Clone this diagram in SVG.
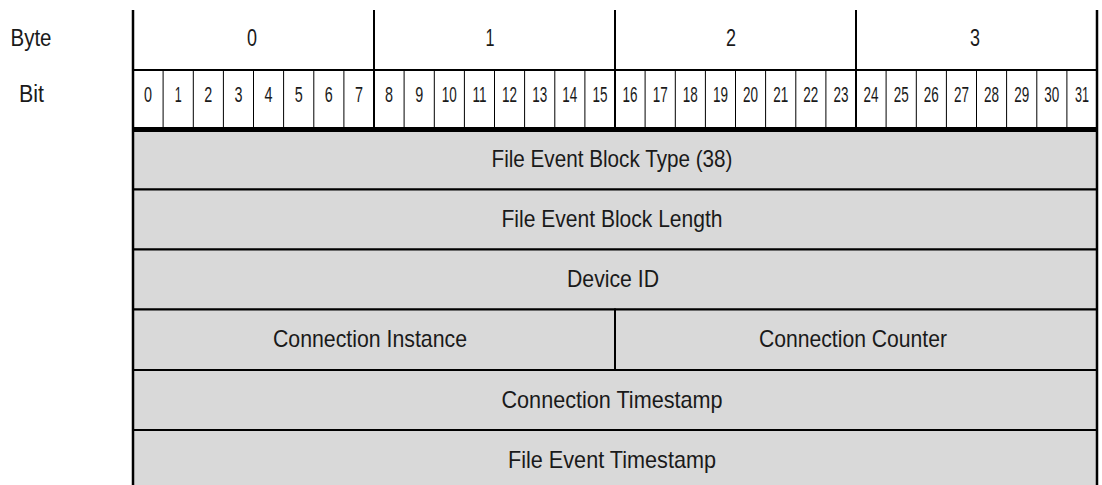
<svg xmlns="http://www.w3.org/2000/svg" width="1102" height="485" viewBox="0 0 1102 485">
<style>
text{font-family:"Liberation Sans","DejaVu Sans Condensed",sans-serif;fill:#1a1a1a;text-anchor:middle}
.lbl{font-size:23px}
.bit{font-size:22px}
.fld{font-size:24px}
.thin{stroke:#000;stroke-width:1}
.thick{stroke:#000;stroke-width:2}
.cell{fill:#d9d9d9;stroke:#000;stroke-width:2}
</style>
<rect width="1102" height="485" fill="#fff"/>
<g id="header">
<text class="lbl" x="31" y="46" textLength="41" lengthAdjust="spacingAndGlyphs">Byte</text>
<text class="lbl" x="31.5" y="102" textLength="25" lengthAdjust="spacingAndGlyphs">Bit</text>
<g id="byte-numbers">
<text class="lbl" x="252" y="46" textLength="10" lengthAdjust="spacingAndGlyphs">0</text>
<text class="lbl" x="490" y="46" textLength="9" lengthAdjust="spacingAndGlyphs">1</text>
<text class="lbl" x="731" y="46" textLength="10" lengthAdjust="spacingAndGlyphs">2</text>
<text class="lbl" x="975" y="46" textLength="10" lengthAdjust="spacingAndGlyphs">3</text>
</g>
<line class="thick" x1="133" y1="70" x2="1097" y2="70"/>
<g id="bit-lines">
<line class="thin" x1="163.1" y1="70" x2="163.1" y2="127"/>
<line class="thin" x1="193.3" y1="70" x2="193.3" y2="127"/>
<line class="thin" x1="223.4" y1="70" x2="223.4" y2="127"/>
<line class="thin" x1="253.5" y1="70" x2="253.5" y2="127"/>
<line class="thin" x1="283.6" y1="70" x2="283.6" y2="127"/>
<line class="thin" x1="313.8" y1="70" x2="313.8" y2="127"/>
<line class="thin" x1="343.9" y1="70" x2="343.9" y2="127"/>
<line class="thin" x1="404.1" y1="70" x2="404.1" y2="127"/>
<line class="thin" x1="434.3" y1="70" x2="434.3" y2="127"/>
<line class="thin" x1="464.4" y1="70" x2="464.4" y2="127"/>
<line class="thin" x1="494.5" y1="70" x2="494.5" y2="127"/>
<line class="thin" x1="524.6" y1="70" x2="524.6" y2="127"/>
<line class="thin" x1="554.8" y1="70" x2="554.8" y2="127"/>
<line class="thin" x1="584.9" y1="70" x2="584.9" y2="127"/>
<line class="thin" x1="645.1" y1="70" x2="645.1" y2="127"/>
<line class="thin" x1="675.3" y1="70" x2="675.3" y2="127"/>
<line class="thin" x1="705.4" y1="70" x2="705.4" y2="127"/>
<line class="thin" x1="735.5" y1="70" x2="735.5" y2="127"/>
<line class="thin" x1="765.6" y1="70" x2="765.6" y2="127"/>
<line class="thin" x1="795.8" y1="70" x2="795.8" y2="127"/>
<line class="thin" x1="825.9" y1="70" x2="825.9" y2="127"/>
<line class="thin" x1="886.1" y1="70" x2="886.1" y2="127"/>
<line class="thin" x1="916.3" y1="70" x2="916.3" y2="127"/>
<line class="thin" x1="946.4" y1="70" x2="946.4" y2="127"/>
<line class="thin" x1="976.5" y1="70" x2="976.5" y2="127"/>
<line class="thin" x1="1006.6" y1="70" x2="1006.6" y2="127"/>
<line class="thin" x1="1036.8" y1="70" x2="1036.8" y2="127"/>
<line class="thin" x1="1066.9" y1="70" x2="1066.9" y2="127"/>
</g>
<line class="thick" x1="374" y1="10" x2="374" y2="127"/>
<line class="thick" x1="615" y1="10" x2="615" y2="127"/>
<line class="thick" x1="856" y1="10" x2="856" y2="127"/>
<g id="bit-numbers">
<text class="bit" x="148.1" y="102" textLength="8" lengthAdjust="spacingAndGlyphs">0</text>
<text class="bit" x="178.2" y="102" textLength="7" lengthAdjust="spacingAndGlyphs">1</text>
<text class="bit" x="208.3" y="102" textLength="8" lengthAdjust="spacingAndGlyphs">2</text>
<text class="bit" x="238.4" y="102" textLength="8" lengthAdjust="spacingAndGlyphs">3</text>
<text class="bit" x="268.6" y="102" textLength="8" lengthAdjust="spacingAndGlyphs">4</text>
<text class="bit" x="298.7" y="102" textLength="8" lengthAdjust="spacingAndGlyphs">5</text>
<text class="bit" x="328.8" y="102" textLength="8" lengthAdjust="spacingAndGlyphs">6</text>
<text class="bit" x="358.9" y="102" textLength="8" lengthAdjust="spacingAndGlyphs">7</text>
<text class="bit" x="389.1" y="102" textLength="8" lengthAdjust="spacingAndGlyphs">8</text>
<text class="bit" x="419.2" y="102" textLength="8" lengthAdjust="spacingAndGlyphs">9</text>
<text class="bit" x="449.3" y="102" textLength="15" lengthAdjust="spacingAndGlyphs">10</text>
<text class="bit" x="479.4" y="102" textLength="14" lengthAdjust="spacingAndGlyphs">11</text>
<text class="bit" x="509.6" y="102" textLength="15" lengthAdjust="spacingAndGlyphs">12</text>
<text class="bit" x="539.7" y="102" textLength="15" lengthAdjust="spacingAndGlyphs">13</text>
<text class="bit" x="569.8" y="102" textLength="15" lengthAdjust="spacingAndGlyphs">14</text>
<text class="bit" x="599.9" y="102" textLength="15" lengthAdjust="spacingAndGlyphs">15</text>
<text class="bit" x="630.1" y="102" textLength="15" lengthAdjust="spacingAndGlyphs">16</text>
<text class="bit" x="660.2" y="102" textLength="15" lengthAdjust="spacingAndGlyphs">17</text>
<text class="bit" x="690.3" y="102" textLength="15" lengthAdjust="spacingAndGlyphs">18</text>
<text class="bit" x="720.4" y="102" textLength="15" lengthAdjust="spacingAndGlyphs">19</text>
<text class="bit" x="750.6" y="102" textLength="15" lengthAdjust="spacingAndGlyphs">20</text>
<text class="bit" x="780.7" y="102" textLength="15" lengthAdjust="spacingAndGlyphs">21</text>
<text class="bit" x="810.8" y="102" textLength="15" lengthAdjust="spacingAndGlyphs">22</text>
<text class="bit" x="840.9" y="102" textLength="15" lengthAdjust="spacingAndGlyphs">23</text>
<text class="bit" x="871.1" y="102" textLength="15" lengthAdjust="spacingAndGlyphs">24</text>
<text class="bit" x="901.2" y="102" textLength="15" lengthAdjust="spacingAndGlyphs">25</text>
<text class="bit" x="931.3" y="102" textLength="15" lengthAdjust="spacingAndGlyphs">26</text>
<text class="bit" x="961.4" y="102" textLength="15" lengthAdjust="spacingAndGlyphs">27</text>
<text class="bit" x="991.6" y="102" textLength="15" lengthAdjust="spacingAndGlyphs">28</text>
<text class="bit" x="1021.7" y="102" textLength="15" lengthAdjust="spacingAndGlyphs">29</text>
<text class="bit" x="1051.8" y="102" textLength="15" lengthAdjust="spacingAndGlyphs">30</text>
<text class="bit" x="1081.9" y="102" textLength="14" lengthAdjust="spacingAndGlyphs">31</text>
</g>
</g>
<g id="field-type">
<rect class="cell" x="133" y="131" width="964" height="58.5"/>
<text class="fld" x="612" y="167" textLength="241" lengthAdjust="spacingAndGlyphs">File Event Block Type (38)</text>
</g>
<g id="field-length">
<rect class="cell" x="133" y="189.5" width="964" height="60"/>
<text class="fld" x="612" y="227" textLength="221" lengthAdjust="spacingAndGlyphs">File Event Block Length</text>
</g>
<g id="field-device">
<rect class="cell" x="133" y="249.5" width="964" height="60"/>
<text class="fld" x="613" y="287" textLength="92" lengthAdjust="spacingAndGlyphs">Device ID</text>
</g>
<g id="field-conn-instance">
<rect class="cell" x="133" y="309.5" width="482" height="60.5"/>
<text class="fld" x="370" y="347" textLength="194" lengthAdjust="spacingAndGlyphs">Connection Instance</text>
</g>
<g id="field-conn-counter">
<rect class="cell" x="615" y="309.5" width="482" height="60.5"/>
<text class="fld" x="853" y="347" textLength="188" lengthAdjust="spacingAndGlyphs">Connection Counter</text>
</g>
<g id="field-conn-ts">
<rect class="cell" x="133" y="370" width="964" height="60"/>
<text class="fld" x="612" y="408" textLength="221" lengthAdjust="spacingAndGlyphs">Connection Timestamp</text>
</g>
<g id="field-file-ts">
<rect class="cell" x="133" y="430" width="964" height="58"/>
<text class="fld" x="612" y="468" textLength="208" lengthAdjust="spacingAndGlyphs">File Event Timestamp</text>
</g>
<g id="connectors">
<line x1="1097" y1="10" x2="1097" y2="485" stroke="#000" stroke-width="2.5"/>
<line x1="133" y1="10" x2="133" y2="485" stroke="#000" stroke-width="2.5"/>
<line x1="133" y1="129.5" x2="1098" y2="129.5" stroke="#000" stroke-width="5"/>
</g>
</svg>
